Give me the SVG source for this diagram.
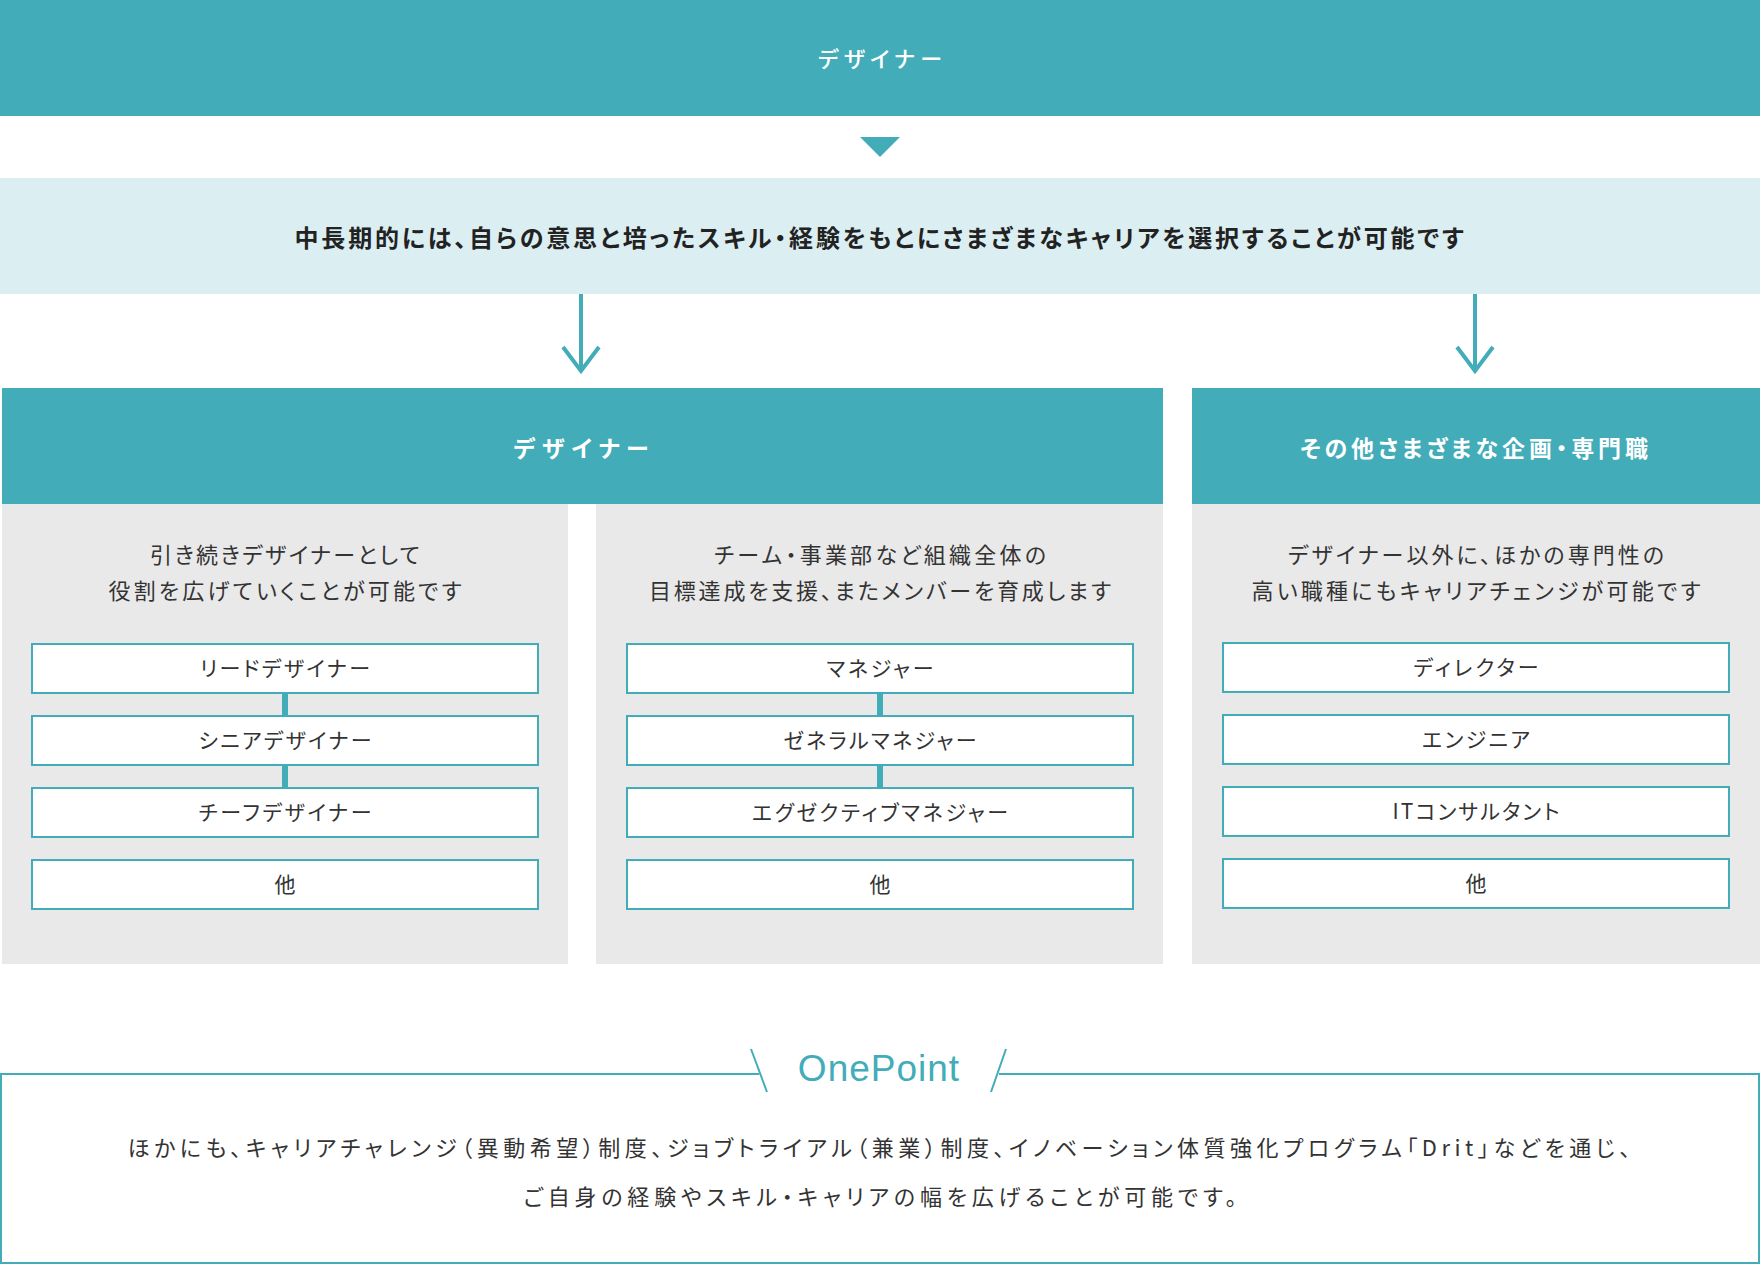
<svg xmlns="http://www.w3.org/2000/svg" width="1760" height="1266" viewBox="0 0 1760 1266">
<defs>
<style>
.teal{fill:#43acb9}
.gray{fill:#e9e9e9}
.band{fill:#dbeef1}
.box{fill:#fff;stroke:#43acb9;stroke-width:2}
.bar{fill:#43acb9}
text{font-family:"Noto Sans CJK JP","Noto Sans",sans-serif;dominant-baseline:central;text-anchor:middle;font-feature-settings:"palt"}
.hw{fill:#fff;font-size:22px;font-weight:500}
.hb{fill:#fff;font-size:23px;font-weight:700}
.bandt{fill:#222;font-size:24px;font-weight:700}
.desc{fill:#333;font-size:22px}
.bt{fill:#333;font-size:21px}
.body{fill:#333;font-size:22px}
.op{fill:#43acb9;font-family:"Liberation Sans","Noto Sans",sans-serif;font-size:37px;letter-spacing:1px;dominant-baseline:auto;font-feature-settings:normal}
.ln{fill:none;stroke:#43acb9;stroke-width:4}
.thin{fill:none;stroke:#43acb9;stroke-width:2}
</style>
</defs>

<g id="top-header">
<rect class="teal" x="0" y="0" width="1760" height="116"/>
<text class="hw" x="880" y="57" textLength="124" lengthAdjust="spacing">デザイナー</text>
</g>

<g id="band">
<rect class="band" x="0" y="178" width="1760" height="116"/>
<text class="bandt" x="879" y="236" textLength="1169" lengthAdjust="spacing">中長期的には、自らの意思と培ったスキル・経験をもとにさまざまなキャリアを選択することが可能です</text>
</g>

<g id="designer-header">
<rect class="teal" x="2" y="388" width="1161" height="116"/>
<text class="hb" x="581" y="447" textLength="135" lengthAdjust="spacing">デザイナー</text>
</g>

<g id="other-header">
<rect class="teal" x="1192" y="388" width="1568" height="116"/>
<text class="hb" x="1474" y="447" textLength="348" lengthAdjust="spacing">その他さまざまな企画・専門職</text>
</g>

<g id="panel-designer">
<rect class="gray" x="2" y="504" width="566" height="460"/>
<text class="desc" x="285" y="553" textLength="270" lengthAdjust="spacing">引き続きデザイナーとして</text>
<text class="desc" x="285" y="589" textLength="353" lengthAdjust="spacing">役割を広げていくことが可能です</text>
</g>
<g id="node-lead"><rect class="box" x="32" y="644" width="506" height="49"/><text class="bt" x="285" y="667" textLength="170" lengthAdjust="spacing">リードデザイナー</text></g>
<g id="node-senior"><rect class="box" x="32" y="716" width="506" height="49"/><text class="bt" x="285" y="739" textLength="173" lengthAdjust="spacing">シニアデザイナー</text></g>
<g id="node-chief"><rect class="box" x="32" y="788" width="506" height="49"/><text class="bt" x="285" y="811" textLength="173" lengthAdjust="spacing">チーフデザイナー</text></g>
<g id="node-other1"><rect class="box" x="32" y="860" width="506" height="49"/><text class="bt" x="285" y="883">他</text></g>

<g id="panel-manager">
<rect class="gray" x="596" y="504" width="567" height="460"/>
<text class="desc" x="880" y="553" textLength="332" lengthAdjust="spacing">チーム・事業部など組織全体の</text>
<text class="desc" x="880" y="589" textLength="462" lengthAdjust="spacing">目標達成を支援、またメンバーを育成します</text>
</g>
<g id="node-manager"><rect class="box" x="627" y="644" width="506" height="49"/><text class="bt" x="880" y="667" textLength="107" lengthAdjust="spacing">マネジャー</text></g>
<g id="node-gm"><rect class="box" x="627" y="716" width="506" height="49"/><text class="bt" x="880" y="739" textLength="193" lengthAdjust="spacing">ゼネラルマネジャー</text></g>
<g id="node-em"><rect class="box" x="627" y="788" width="506" height="49"/><text class="bt" x="880" y="811" textLength="256" lengthAdjust="spacing">エグゼクティブマネジャー</text></g>
<g id="node-other2"><rect class="box" x="627" y="860" width="506" height="49"/><text class="bt" x="880" y="883">他</text></g>

<g id="panel-other">
<rect class="gray" x="1192" y="504" width="568" height="460"/>
<text class="desc" x="1476" y="553" textLength="376" lengthAdjust="spacing">デザイナー以外に、ほかの専門性の</text>
<text class="desc" x="1476" y="589" textLength="449" lengthAdjust="spacing">高い職種にもキャリアチェンジが可能です</text>
</g>
<g id="node-director"><rect class="box" x="1223" y="643" width="506" height="49"/><text class="bt" x="1476" y="666" textLength="125" lengthAdjust="spacing">ディレクター</text></g>
<g id="node-engineer"><rect class="box" x="1223" y="715" width="506" height="49"/><text class="bt" x="1476" y="738" textLength="108" lengthAdjust="spacing">エンジニア</text></g>
<g id="node-it"><rect class="box" x="1223" y="787" width="506" height="49"/><text class="bt" x="1476" y="810" textLength="167" lengthAdjust="spacing">ITコンサルタント</text></g>
<g id="node-other3"><rect class="box" x="1223" y="859" width="506" height="49"/><text class="bt" x="1476" y="882">他</text></g>

<g id="connectors">
<polygon class="teal" points="860,137 900,137 880,157"/>
<path class="ln" d="M581,294 V369 M563,347 L581,371 L599,347"/>
<path class="ln" d="M1475,294 V369 M1457,347 L1475,371 L1493,347"/>
<rect class="bar" x="282" y="694" width="6" height="21"/>
<rect class="bar" x="282" y="766" width="6" height="21"/>
<rect class="bar" x="877" y="694" width="6" height="21"/>
<rect class="bar" x="877" y="766" width="6" height="21"/>
</g>

<g id="onepoint">
<path class="thin" d="M759,1074 H1 V1263 H1759 V1074 H999"/>
<line class="thin" x1="751" y1="1049" x2="767" y2="1092"/>
<line class="thin" x1="1006" y1="1049" x2="991" y2="1092"/>
<text class="op" x="879" y="1081">OnePoint</text>
<text class="body" x="879" y="1146" textLength="1503" lengthAdjust="spacing">ほかにも、キャリアチャレンジ（異動希望）制度、ジョブトライアル（兼業）制度、イノベーション体質強化プログラム「Drit」などを通じ、</text>
<text class="body" x="880" y="1195" textLength="713" lengthAdjust="spacing">ご自身の経験やスキル・キャリアの幅を広げることが可能です。</text>
</g>
</svg>
